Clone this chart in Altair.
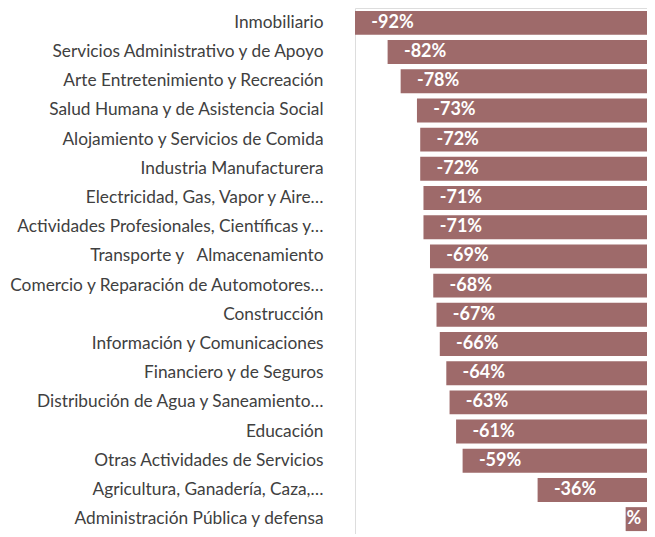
import altair as alt
import pandas as pd

PAD = "\u00a0" * 4  # trailing space so full labels end left of the truncated ones, as in the source

sectors = [
    "Inmobiliario" + PAD,
    "Servicios Administrativo y de Apoyo" + PAD,
    "Arte Entretenimiento y Recreación" + PAD,
    "Salud Humana y de Asistencia Social" + PAD,
    "Alojamiento y Servicios de Comida" + PAD,
    "Industria Manufacturera\u00a0" + PAD,
    "Electricidad, Gas, Vapor y Aire…",
    "Actividades Profesionales, Científicas y…",
    "Transporte y\u00a0\u00a0\u00a0Almacenamiento\u00a0" + PAD,
    "Comercio y Reparación de Automotores…",
    "Construcción" + PAD,
    "Información y Comunicaciones" + PAD,
    "Financiero y de Seguros" + PAD,
    "Distribución de Agua y Saneamiento…",
    "Educación" + PAD,
    "Otras Actividades de Servicios" + PAD,
    "Agricultura, Ganadería, Caza,…",
    "Administración Pública y defensa" + PAD,
]
values = [-92, -82, -78, -73, -72, -72, -71, -71, -69, -68, -67, -66, -64, -63, -61, -59, -36, -9]
labels = ["-92%", "-82%", "-78%", "-73%", "-72%", "-72%", "-71%", "-71%", "-69%",
          "-68%", "-67%", "-66%", "-64%", "-63%", "-61%", "-59%", "-36%", "%"]

df = pd.DataFrame({"sector": sectors, "value": values, "label": labels})

y_enc = alt.Y(
    "sector:N",
    sort=sectors,
    scale=alt.Scale(paddingInner=0.18, paddingOuter=0.1),
    axis=alt.Axis(
        title=None, ticks=False, domain=False, grid=False, labelPadding=32,
        domainOpacity=0, tickOpacity=0, gridOpacity=0,
        labelFont="Lato", labelFontSize=17.3, labelColor="#404040", labelLimit=400,
    ),
)
# zero lies just beyond the right edge of the visible area, as in the source
x_scale = alt.Scale(domain=[-92, -2.45], nice=False, zero=False)

base = alt.Chart(df)
bars = base.mark_bar(color="#9E6A6A", clip=True).encode(
    y=y_enc, x=alt.X("value:Q", scale=x_scale, axis=None)
)
# labels sit inside the bar near its start; a too-short bar gets its label at the very start
text = base.transform_calculate(
    lx="datum.value > -20 ? datum.value + 0.3 : datum.value + 5.0"
).mark_text(
    align="left", baseline="middle", color="white",
    font="Lato", fontWeight="bold", fontSize=18,
).encode(y=y_enc, x=alt.X("lx:Q", scale=x_scale, axis=None), text="label:N")

chart = (
    (bars + text)
    .properties(
        width=292, height=526,
        autosize=alt.AutoSizeParams(type="none"),
        padding={"left": 347, "top": 0, "right": 0, "bottom": 0},
    )
    .configure_view(stroke=None, strokeWidth=0, fill=None)
    .configure_axis(domain=False, grid=False, ticks=False)
    .configure(background="white")
)

chart.save("out.html", embed_options={"renderer": "svg", "actions": False})
